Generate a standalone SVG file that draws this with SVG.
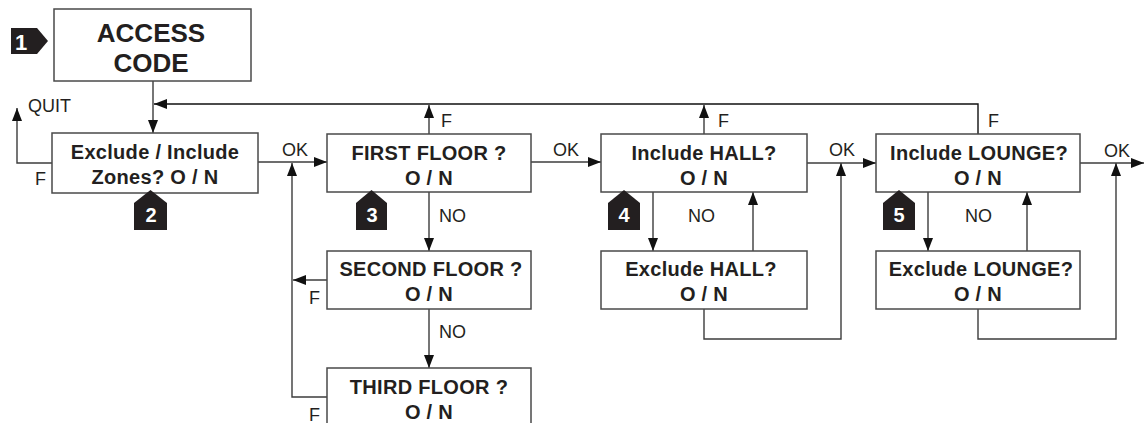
<svg xmlns="http://www.w3.org/2000/svg" width="1144" height="423" viewBox="0 0 1144 423">
<style>
.box{fill:#fff;stroke:#4a4a4a;stroke-width:1.5}
.t{font-family:"Liberation Sans",Arial,sans-serif;font-weight:bold;font-size:20px;fill:#231f20;text-anchor:middle;letter-spacing:0.3px}
.big{font-size:26px;letter-spacing:0}
.lbl{font-family:"Liberation Sans",Arial,sans-serif;font-size:18px;fill:#231f20}
.c{fill:none;stroke:#3c3c3c;stroke-width:1.4}
.badge{fill:#231f20}
.num{font-family:"Liberation Sans",Arial,sans-serif;font-weight:bold;font-size:20px;fill:#fff;text-anchor:middle}
</style>
<defs>
<marker id="ah" viewBox="0 0 13 10" refX="13" refY="5" markerWidth="13" markerHeight="10" markerUnits="userSpaceOnUse" orient="auto">
<path d="M0,0 L13,5 L0,10 z" fill="#111"/>
</marker>
</defs>

<g id="connectors">
<path class="c" d="M153,81 V133" marker-end="url(#ah)"/>
<path class="c" style="stroke:#111" d="M978,134 V104 H154" marker-end="url(#ah)"/>
<path class="c" d="M429,134 V105" marker-end="url(#ah)"/>
<path class="c" d="M704,134 V105" marker-end="url(#ah)"/>
<path class="c" d="M52,163 H17 V108" marker-end="url(#ah)"/>
<path class="c" d="M258,162 H327" marker-end="url(#ah)"/>
<path class="c" d="M429,192 V251" marker-end="url(#ah)"/>
<path class="c" d="M327,280 H293" marker-end="url(#ah)"/>
<path class="c" d="M429,309 V368" marker-end="url(#ah)"/>
<path class="c" d="M327,397 H292 V163" marker-end="url(#ah)"/>
<path class="c" d="M531,162 H601" marker-end="url(#ah)"/>
<path class="c" d="M653,192 V251" marker-end="url(#ah)"/>
<path class="c" d="M753,251 V192" marker-end="url(#ah)"/>
<path class="c" d="M704,309 V339 H841 V163" marker-end="url(#ah)"/>
<path class="c" d="M807,163 H876" marker-end="url(#ah)"/>
<path class="c" d="M928,192 V251" marker-end="url(#ah)"/>
<path class="c" d="M1027,251 V192" marker-end="url(#ah)"/>
<path class="c" d="M978,309 V339 H1116 V163" marker-end="url(#ah)"/>
<path class="c" d="M1080,163 H1144" marker-end="url(#ah)"/>
<text class="lbl" x="28" y="112">QUIT</text>
<text class="lbl" x="35" y="185">F</text>
<text class="lbl" x="282" y="156">OK</text>
<text class="lbl" x="441" y="127">F</text>
<text class="lbl" x="439" y="222">NO</text>
<text class="lbl" x="309" y="304">F</text>
<text class="lbl" x="439" y="338">NO</text>
<text class="lbl" x="309" y="421">F</text>
<text class="lbl" x="553" y="156">OK</text>
<text class="lbl" x="718" y="127">F</text>
<text class="lbl" x="688" y="222">NO</text>
<text class="lbl" x="829" y="156">OK</text>
<text class="lbl" x="988" y="127">F</text>
<text class="lbl" x="965" y="222">NO</text>
<text class="lbl" x="1104" y="157">OK</text>
</g>

<g id="access-code">
<rect class="box" x="54" y="9" width="197" height="72"/>
<text class="t big" x="151" y="42">ACCESS</text>
<text class="t big" x="151" y="72">CODE</text>
</g>
<g id="badge1">
<path class="badge" d="M11,28 H37 L48,41 L37,54 H11 z"/>
<text class="num" x="21" y="50" style="font-size:22px">1</text>
</g>

<g id="exclude-include">
<rect class="box" x="52" y="133" width="206" height="60"/>
<text class="t" x="155" y="159">Exclude / Include</text>
<text class="t" x="155" y="184">Zones? O / N</text>
</g>
<g id="badge2">
<path class="badge" d="M134,230 V203 L150.5,190 L167,203 V230 z"/>
<text class="num" x="151" y="222">2</text>
</g>

<g id="first-floor">
<rect class="box" x="327" y="134" width="204" height="58"/>
<text class="t" x="429" y="160">FIRST FLOOR ?</text>
<text class="t" x="429" y="185">O / N</text>
</g>
<g id="badge3">
<path class="badge" d="M356,230 V203 L371.5,190 L387,203 V230 z"/>
<text class="num" x="372" y="222">3</text>
</g>

<g id="second-floor">
<rect class="box" x="327" y="251" width="204" height="58"/>
<text class="t" x="431" y="276">SECOND FLOOR ?</text>
<text class="t" x="429" y="301">O / N</text>
</g>

<g id="third-floor">
<rect class="box" x="327" y="368" width="204" height="60"/>
<text class="t" x="429" y="394">THIRD FLOOR ?</text>
<text class="t" x="429" y="419">O / N</text>
</g>

<g id="include-hall">
<rect class="box" x="601" y="134" width="206" height="58"/>
<text class="t" x="704" y="160">Include HALL?</text>
<text class="t" x="704" y="185">O / N</text>
</g>
<g id="badge4">
<path class="badge" d="M608,230 V203 L624,190 L640,203 V230 z"/>
<text class="num" x="624" y="222">4</text>
</g>

<g id="exclude-hall">
<rect class="box" x="601" y="251" width="206" height="58"/>
<text class="t" x="701" y="276">Exclude HALL?</text>
<text class="t" x="704" y="301">O / N</text>
</g>

<g id="include-lounge">
<rect class="box" x="876" y="134" width="204" height="58"/>
<text class="t" x="979" y="160">Include LOUNGE?</text>
<text class="t" x="978" y="185">O / N</text>
</g>
<g id="badge5">
<path class="badge" d="M883,230 V203 L899,190 L915,203 V230 z"/>
<text class="num" x="899" y="222">5</text>
</g>

<g id="exclude-lounge">
<rect class="box" x="876" y="251" width="204" height="58"/>
<text class="t" x="981" y="276">Exclude LOUNGE?</text>
<text class="t" x="978" y="301">O / N</text>
</g>
</svg>
